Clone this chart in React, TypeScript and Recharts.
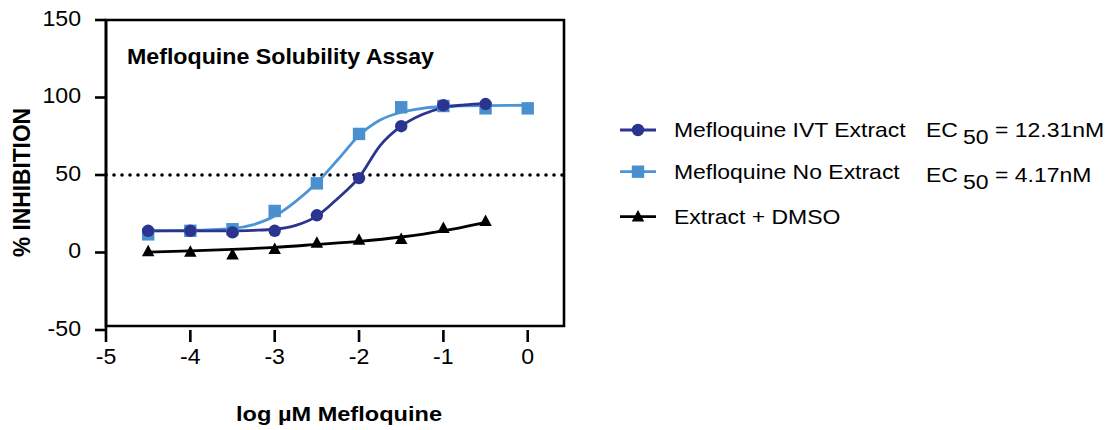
import React from 'react';
import {
  ComposedChart,
  Line,
  Scatter,
  XAxis,
  YAxis,
  ReferenceLine,
  ReferenceArea,
  Legend,
  Customized,
} from 'recharts';

const FONT = '"Liberation Sans", Arial, Helvetica, sans-serif';
const DARK = '#2b3590';
const LIGHT = '#4a8fcf';
const LIGHT_LINE = '#4b95d6';
const BLACK = '#000000';

// ---- data ----
const xTicks = [-5, -4, -3, -2, -1, 0];
const yTicks = [-50, 0, 50, 100, 150];

const doseLogs = [-4.5, -4, -3.5, -3, -2.5, -2, -1.5, -1, -0.5];
const doseLogsNoExtract = [-4.5, -4, -3.5, -3, -2.5, -2, -1.5, -1, -0.5, 0];
const ivtValues = [14, 14, 13, 14, 24, 48, 81.5, 95, 95.8];
const noExtractValues = [11.7, 14, 15, 26.8, 44.6, 76.5, 93.7, 94.5, 93, 93];
const dmsoValues = [0, -0.3, -2, 1.5, 5.5, 7.5, 8, 15, 19.5];

const fitLogs = [-4.5, -4, -3.5, -3.25, -3, -2.75, -2.5, -2.25, -2, -1.75, -1.5, -1.25, -1, -0.75, -0.5, 0];
const ivtFitValues = [14, 14, 14, 14.3, 15, 17.5, 23.5, 35, 48.5, 69, 81.5, 89, 93.5, 95.2, 96];
const noExtractFitValues = [14, 14.2, 15.5, 18, 23.5, 33, 45, 60, 75.5, 85.5, 90.5, 93, 94.2, 94.6, 94.8, 95];
const dmsoFitLogs = [-4.5, -4, -3.5, -3, -2.5, -2, -1.5, -1, -0.5];
const dmsoFitValues = [0.3, 1, 2, 3.3, 5.2, 7.2, 10, 14, 19.5];

const seriesNames = ['Mefloquine IVT Extract', 'Mefloquine No Extract', 'Extract + DMSO'];
const ec50Values = ['12.31nM', '4.17nM'];
const chartTitle = 'Mefloquine Solubility Assay';
const xTitle = 'log µM Mefloquine';
const yTitle = '% INHIBITION';

const toPoints = (xs: number[], ys: number[]) => ys.map((y, i) => ({ x: xs[i], y }));

const ivtPoints = toPoints(doseLogs, ivtValues);
const noExtractPoints = toPoints(doseLogsNoExtract, noExtractValues);
const dmsoPoints = toPoints(doseLogs, dmsoValues);
const ivtFit = toPoints(fitLogs, ivtFitValues);
const noExtractFit = toPoints(fitLogs, noExtractFitValues);
const dmsoFit = toPoints(dmsoFitLogs, dmsoFitValues);

// ---- marker shapes ----
const CircleMark = (p: any) => <circle cx={p.cx} cy={p.cy} r={6.2} fill={DARK} />;
const SquareMark = (p: any) => <rect x={p.cx - 6.2} y={p.cy - 6.2} width={12.4} height={12.4} fill={LIGHT} />;
const TriMark = (p: any) => {
  const h = 11.5;
  const w = 12.5;
  const pts = `${p.cx},${p.cy - (2 * h) / 3} ${p.cx - w / 2},${p.cy + h / 3} ${p.cx + w / 2},${p.cy + h / 3}`;
  return <polygon points={pts} fill={BLACK} />;
};

// ---- ticks ----
const YTick = (p: any) => (
  <g transform={`translate(${p.x},${p.y - 2}) scale(1.07,1)`}>
    <text x={0} y={0} dy="0.36em" textAnchor="end" fontSize={21.6} fontFamily={FONT} fill="#000">
      {p.payload.value}
    </text>
  </g>
);
const XTick = (p: any) => (
  <g transform={`translate(${p.x},${p.y}) scale(1.07,1)`}>
    <text x={0} y={0} dy="0.72em" textAnchor="middle" fontSize={21.6} fontFamily={FONT} fill="#000">
      {p.payload.value}
    </text>
  </g>
);

// ---- legend ----
const LTxt = ({ x, y, children }: any) => (
  <g transform={`translate(${x},${y}) scale(1.12,1)`}>
    <text x={0} y={0} fontSize={20.5} fontFamily={FONT} fill="#000">
      {children}
    </text>
  </g>
);

const renderLegend = () => {
  const rows = [30, 71.7, 116.7];
  const colors = [DARK, LIGHT_LINE, BLACK];
  return (
    <svg width={500} height={140} style={{ display: 'block', overflow: 'visible' }}>
      {seriesNames.map((name, i) => {
        const cy = rows[i];
        return (
          <g key={name}>
            <line x1={20} x2={56} y1={cy} y2={cy} stroke={colors[i]} strokeWidth={2.8} />
            {i === 0 && <CircleMark cx={38} cy={cy} />}
            {i === 1 && <SquareMark cx={38} cy={cy} />}
            {i === 2 && <TriMark cx={38} cy={cy + 1} />}
            <LTxt x={74} y={cy + 7.3}>{name}</LTxt>
            {i < ec50Values.length && (
              <g>
                <LTxt x={326} y={cy + 7.3 + i * 3}>EC</LTxt>
                <LTxt x={363} y={cy + 14.3 + i * 3}>50</LTxt>
                <LTxt x={395} y={cy + 7.3 + i * 3}>{'= ' + ec50Values[i]}</LTxt>
              </g>
            )}
          </g>
        );
      })}
    </svg>
  );
};

// ---- titles ----
const Titles = () => (
  <g>
    <text
      x={127}
      y={64}
      fontSize={21.8}
      fontWeight="bold"
      fontFamily={FONT}
      fill="#000"
      textLength={307}
      lengthAdjust="spacingAndGlyphs"
    >
      {chartTitle}
    </text>
    <text
      x={339}
      y={420.5}
      textAnchor="middle"
      fontSize={20.8}
      fontWeight="bold"
      fontFamily={FONT}
      fill="#000"
      textLength={206}
      lengthAdjust="spacingAndGlyphs"
    >
      {xTitle}
    </text>
    <g transform="translate(29.5,182.5) scale(1.1,1) rotate(-90)">
      <text
        x={0}
        y={0}
        textAnchor="middle"
        fontSize={21.5}
        fontWeight="bold"
        fontFamily={FONT}
        fill="#000"
        textLength={149}
        lengthAdjust="spacingAndGlyphs"
      >
        {yTitle}
      </text>
    </g>
  </g>
);

export default function App() {
  return (
    <div style={{ position: 'absolute', left: 0, top: 0, width: 1113, height: 430, background: '#fff' }}>
      <ComposedChart width={1113} height={430} margin={{ top: 20, right: 49, bottom: 0, left: 10 }}>
        <XAxis
          type="number"
          dataKey="x"
          domain={[-5, 0.43]}
          ticks={xTicks}
          interval={0}
          allowDataOverflow
          height={100}
          axisLine={false}
          tickLine={{ stroke: '#000', strokeWidth: 2.6 }}
          tickSize={12}
          tickMargin={6}
          tick={<XTick />}
        />
        <YAxis
          type="number"
          dataKey="y"
          domain={[-50, 150]}
          ticks={yTicks}
          interval={0}
          allowDataOverflow
          width={96}
          axisLine={{ stroke: '#000', strokeWidth: 2.6 }}
          tickLine={{ stroke: '#000', strokeWidth: 2.6 }}
          tickSize={11}
          tickMargin={14}
          tick={<YTick />}
        />
        <ReferenceArea
          x1={-5}
          x2={0.43}
          y1={-47.4}
          y2={150}
          fill="none"
          fillOpacity={0}
          stroke="#000"
          strokeWidth={2.6}
          ifOverflow="visible"
        />
        <ReferenceLine
          y={50}
          stroke="#000"
          strokeWidth={3.6}
          strokeDasharray="0 8"
          strokeLinecap="round"
        />
        <Legend
          layout="vertical"
          align="right"
          verticalAlign="top"
          wrapperStyle={{ left: 600, top: 100, width: 500, height: 140 }}
          content={renderLegend}
        />
        <Line
          data={dmsoFit}
          dataKey="y"
          type="monotone"
          stroke={BLACK}
          strokeWidth={2.8}
          dot={false}
          activeDot={false}
          isAnimationActive={false}
          name="Extract + DMSO fit"
        />
        <Scatter data={dmsoPoints} dataKey="y" shape={TriMark} isAnimationActive={false} name={seriesNames[2]} />
        <Line
          data={noExtractFit}
          dataKey="y"
          type="monotone"
          stroke={LIGHT_LINE}
          strokeWidth={2.8}
          dot={false}
          activeDot={false}
          isAnimationActive={false}
          name="Mefloquine No Extract fit"
        />
        <Scatter data={noExtractPoints} dataKey="y" shape={SquareMark} isAnimationActive={false} name={seriesNames[1]} />
        <Line
          data={ivtFit}
          dataKey="y"
          type="monotone"
          stroke={DARK}
          strokeWidth={2.8}
          dot={false}
          activeDot={false}
          isAnimationActive={false}
          name="Mefloquine IVT Extract fit"
        />
        <Scatter data={ivtPoints} dataKey="y" shape={CircleMark} isAnimationActive={false} name={seriesNames[0]} />
        <Customized component={Titles} />
      </ComposedChart>
    </div>
  );
}
